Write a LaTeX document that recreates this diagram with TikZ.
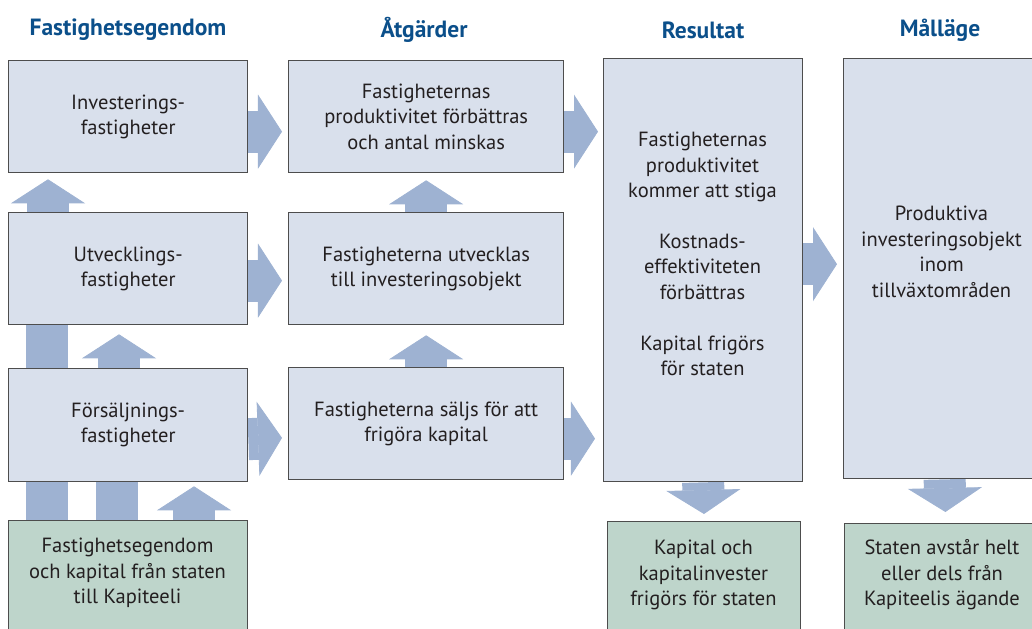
\documentclass[tikz,border=0pt]{standalone}
\usepackage{fontspec}
\setmainfont{PT Sans}
\usetikzlibrary{arrows.meta,backgrounds}
\definecolor{boxfill}{HTML}{D9E0EC}
\definecolor{greenfill}{HTML}{BED5CB}
\definecolor{arrowblue}{HTML}{9EB2D2}
\definecolor{headblue}{HTML}{0B4F8A}
\definecolor{frame}{HTML}{4D4D4D}
\definecolor{ink}{HTML}{231F20}
\begin{document}
\begin{tikzpicture}[x=0.025cm,y=-0.025cm,
  txt/.style={align=center,text=ink,font=\fontsize{14.6}{18.1}\selectfont},
  head/.style={text=headblue,font=\fontsize{16.7}{20}\selectfont\bfseries},
  box/.style={draw=frame,line width=0.9pt,fill=boxfill,anchor=north west,inner sep=0pt,txt},
  gbox/.style={box,fill=greenfill},
  lcol/.style={minimum width=5.975cm,minimum height=2.8cm},
  mcol/.style={minimum width=6.875cm,minimum height=2.8cm},
  fat/.style={draw=arrowblue,line width=1.05cm,-{Triangle[width=1.85cm,length=0.6cm,line width=0.6pt]}},
  bar/.style={draw=arrowblue,line width=1.05cm}]
\useasboundingbox (0,0) rectangle (1032,629);
\clip (0,0) rectangle (1032,629);
\node[head] (h1) at (128,30) {Fastighetsegendom};
\node[head] (h2) at (424,30) {Åtgärder};
\node[head] (h3) at (703,30) {Resultat};
\node[head] (h4) at (940,30) {Målläge};
\node[box,lcol] (inv) at (8,60) {Investerings-\\fastigheter};
\node[box,lcol] (utv) at (8,212) {Utvecklings-\\fastigheter};
\node[box,lcol,minimum height=2.825cm] (fors) at (8,368) {Försäljnings-\\fastigheter};
\node[gbox,lcol,minimum height=3.25cm] (kap) at (8,520) {};
\node[txt] (kapT) at (127.5,573) {Fastighetsegendom\\och kapital från staten\\till Kapiteeli};
\node[box,mcol] (prod) at (288,60) {Fastigheternas\\produktivitet förbättras\\och antal minskas};
\node[box,mcol] (utvk) at (288,212) {Fastigheterna utvecklas\\till investeringsobjekt};
\node[box,mcol] (salj) at (288,367) {Fastigheterna säljs för att\\frigöra kapital};
\node[box,minimum width=4.975cm,minimum height=10.575cm] (res) at (603,58) {};
\node[txt] (resT) at (702.5,254) {Fastigheternas\\produktivitet\\kommer att stiga\\[18.1pt]Kostnads-\\effektiviteten\\förbättras\\[18.1pt]Kapital frigörs\\för staten};
\node[box,minimum width=5.05cm,minimum height=10.5cm] (mal) at (843,58) {};
\node[txt] (malT) at (941.5,252) {Produktiva\\investeringsobjekt\\inom\\tillväxtområden};
\node[gbox,minimum width=4.825cm,minimum height=3.25cm] (frig) at (607,521) {};
\node[txt] (frigT) at (703.5,575) {Kapital och\\kapitalinvester\\frigörs för staten};
\node[gbox,minimum width=5.05cm,minimum height=3.25cm] (avst) at (844,523) {};
\node[txt] (avstT) at (942,575) {Staten avstår helt\\eller dels från\\Kapiteelis ägande};
\begin{scope}[on background layer]
\draw[fat,shorten >=0.15cm] ([yshift=-0.375cm]inv.east)--([yshift=-0.375cm]prod.west);
\draw[fat,shorten >=0.15cm] ([yshift=-0.3cm]utv.east)--([yshift=-0.3cm]utvk.west);
\draw[fat,shorten >=0.15cm] ([yshift=-0.35cm]fors.east)--([yshift=-0.35cm]salj.west);
\coordinate (r1) at ([yshift=-0.375cm]prod.east);
\coordinate (r3) at ([yshift=-0.375cm]salj.east);
\coordinate (r4) at ([yshift=0.15cm]res.east);
\draw[fat,shorten >=0.125cm] (r1)--(r1 -| res.west);
\draw[fat,shorten >=0.2cm] (r3)--(r3 -| res.west);
\draw[fat,shorten >=0.15cm] (r4)--(r4 -| mal.west);
\draw[fat,shorten >=0.15cm] ([xshift=1cm]utv.north west)--([xshift=1cm]inv.south west);
\draw[fat,shorten >=0.225cm] ([xshift=2.775cm]fors.north west)--([xshift=2.775cm]utv.south west);
\draw[bar] ([xshift=0.9625cm]kap.north west)--([xshift=0.9625cm]utv.south west);
\draw[bar] ([xshift=2.7125cm]kap.north west)--([xshift=2.7125cm]fors.south west);
\draw[fat,shorten >=0.1cm] ([xshift=4.65cm]kap.north west)--([xshift=4.65cm]fors.south west);
\draw[fat,shorten >=0.175cm] (utvk.north)--(prod.south);
\draw[fat,shorten >=0.25cm] (salj.north)--(utvk.south);
\draw[fat,shorten >=0.175cm] (res.south)--(frig.north);
\draw[fat,shorten >=0.275cm] (mal.south)--(avst.north);
\end{scope}
\end{tikzpicture}
\end{document}
